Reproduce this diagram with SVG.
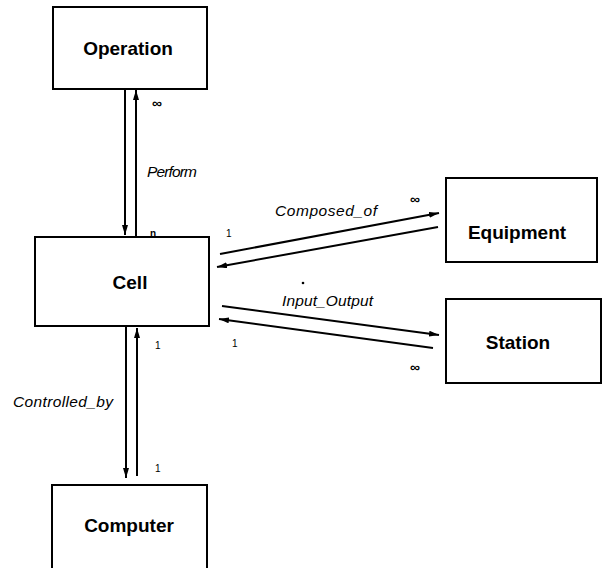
<svg xmlns="http://www.w3.org/2000/svg" width="607" height="568" viewBox="0 0 607 568">
  <defs>
    <marker id="arrow" viewBox="0 0 10 6" refX="10" refY="3" markerWidth="10" markerHeight="6" markerUnits="userSpaceOnUse" orient="auto">
      <path d="M0,0 L10,3 L0,6 Z" fill="#000"/>
    </marker>
  </defs>
  <style>
    .box { fill: #fff; stroke: #000; stroke-width: 2; }
    .name { font-family: "Liberation Sans", Arial, sans-serif; font-weight: bold; font-size: 19px; text-anchor: middle; fill: #000; }
    .link { stroke: #000; stroke-width: 2; fill: none; marker-end: url(#arrow); }
    .role { font-family: "Liberation Sans", Arial, sans-serif; font-style: italic; font-size: 15.5px; fill: #000; }
    .mult { font-family: "Liberation Sans", Arial, sans-serif; font-size: 10px; fill: #000; }
    .many { font-family: "Liberation Sans", Arial, sans-serif; font-weight: bold; font-size: 14px; fill: #000; }
  </style>
  <rect width="607" height="568" fill="#fff"/>

  <g id="operation">
    <rect class="box" x="53" y="7" width="154" height="82"/>
    <text class="name" x="128" y="55">Operation</text>
  </g>
  <g id="cell">
    <rect class="box" x="35" y="237" width="174" height="89"/>
    <text class="name" x="130" y="289">Cell</text>
  </g>
  <g id="equipment">
    <rect class="box" x="446" y="178" width="151" height="84"/>
    <text class="name" x="517" y="239">Equipment</text>
  </g>
  <g id="station">
    <rect class="box" x="446" y="299" width="155" height="84"/>
    <text class="name" x="518" y="349">Station</text>
  </g>
  <g id="computer">
    <rect class="box" x="52" y="485" width="155" height="84"/>
    <text class="name" x="129" y="532">Computer</text>
  </g>

  <g id="connectors">
    <!-- Perform -->
    <line class="link" x1="125" y1="89" x2="125" y2="235"/>
    <line class="link" x1="136" y1="237" x2="136" y2="90"/>
    <!-- Composed_of -->
    <line class="link" x1="220" y1="254" x2="439" y2="213"/>
    <line class="link" x1="438" y1="227" x2="217" y2="267"/>
    <!-- Input_Output -->
    <line class="link" x1="222" y1="306" x2="439" y2="335"/>
    <line class="link" x1="433" y1="348" x2="219" y2="319"/>
    <!-- Controlled_by -->
    <line class="link" x1="126" y1="327" x2="126" y2="478"/>
    <line class="link" x1="137" y1="476" x2="137" y2="328"/>
  </g>

  <g id="labels">
    <text class="role" x="147" y="177" textLength="50">Perform</text>
    <text class="role" x="275" y="216" textLength="102">Composed_of</text>
    <text class="role" x="282" y="306" textLength="91">Input_Output</text>
    <text class="role" x="13" y="407" textLength="100">Controlled_by</text>

    <text class="many" x="152" y="108">∞</text>
    <text class="mult" x="150" y="237" font-weight="bold">n</text>
    <text class="mult" x="226" y="237">1</text>
    <text class="many" x="410" y="204">∞</text>
    <circle cx="303" cy="283" r="1.3" fill="#000"/>
    <text class="mult" x="232" y="347">1</text>
    <text class="many" x="410" y="372">∞</text>
    <text class="mult" x="155" y="349">1</text>
    <text class="mult" x="155" y="472">1</text>
  </g>
</svg>
